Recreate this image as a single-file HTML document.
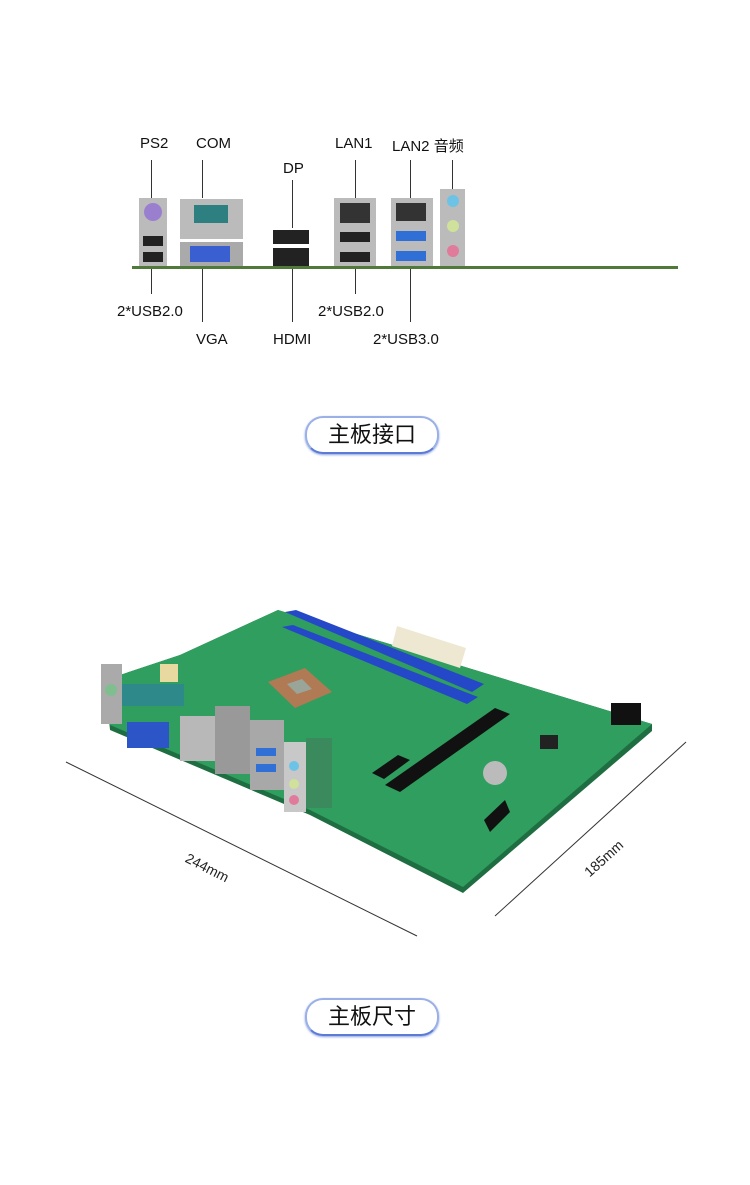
<!DOCTYPE html>
<html><head><meta charset="utf-8"><style>
body{margin:0;width:750px;height:1185px;background:#fff;position:relative;overflow:hidden;font-family:"Liberation Sans","Noto Sans CJK SC",sans-serif}
.t{position:absolute;font-size:15px;color:#111;white-space:nowrap}
.v{position:absolute;width:1px;background:#333}
.btn{position:absolute;width:130px;height:34px;border-radius:18px;border:2px solid #9bb0e6;border-bottom-color:#5b7bd6;box-shadow:0 1px 2px #8aa2e0;font-size:22px;text-align:center;line-height:34px;color:#111;background:#fff}
</style></head><body>
<div class="t" style="left:140px;top:135px">PS2</div>
<div class="t" style="left:196px;top:135px">COM</div>
<div class="t" style="left:283px;top:160px">DP</div>
<div class="t" style="left:335px;top:135px">LAN1</div>
<div class="t" style="left:392px;top:135px">LAN2 音频</div>
<div class="t" style="left:117px;top:303px">2*USB2.0</div>
<div class="t" style="left:318px;top:303px">2*USB2.0</div>
<div class="t" style="left:196px;top:331px">VGA</div>
<div class="t" style="left:273px;top:331px">HDMI</div>
<div class="t" style="left:373px;top:331px">2*USB3.0</div>
<div class="v" style="left:151px;top:160px;height:38px"></div>
<div class="v" style="left:202px;top:160px;height:38px"></div>
<div class="v" style="left:292px;top:180px;height:48px"></div>
<div class="v" style="left:355px;top:160px;height:38px"></div>
<div class="v" style="left:410px;top:160px;height:38px"></div>
<div class="v" style="left:452px;top:160px;height:30px"></div>
<div class="v" style="left:151px;top:268px;height:26px"></div>
<div class="v" style="left:202px;top:268px;height:54px"></div>
<div class="v" style="left:292px;top:268px;height:54px"></div>
<div class="v" style="left:355px;top:268px;height:26px"></div>
<div class="v" style="left:410px;top:268px;height:54px"></div>
<svg style="position:absolute;left:0;top:0" width="750" height="600">
<rect x="132" y="266" width="546" height="3" fill="#4f7a3a"/>
<rect x="139" y="198" width="28" height="68" fill="#bbb"/>
<circle cx="153" cy="212" r="9" fill="#9a7fcf"/>
<rect x="143" y="236" width="20" height="10" fill="#222"/><rect x="143" y="252" width="20" height="10" fill="#222"/>
<rect x="180" y="199" width="63" height="40" fill="#bbb"/><rect x="194" y="205" width="34" height="18" fill="#2e7f80"/>
<rect x="180" y="242" width="63" height="24" fill="#aaa"/><rect x="190" y="246" width="40" height="16" fill="#3a5fd0"/>
<rect x="273" y="230" width="36" height="14" fill="#222"/><rect x="273" y="248" width="36" height="18" fill="#222"/>
<rect x="334" y="198" width="42" height="68" fill="#bbb"/><rect x="340" y="203" width="30" height="20" fill="#333"/>
<rect x="340" y="232" width="30" height="10" fill="#222"/><rect x="340" y="252" width="30" height="10" fill="#222"/>
<rect x="391" y="198" width="42" height="68" fill="#bbb"/><rect x="396" y="203" width="30" height="18" fill="#333"/>
<rect x="396" y="231" width="30" height="10" fill="#2f6fd6"/><rect x="396" y="251" width="30" height="10" fill="#2f6fd6"/>
<rect x="440" y="189" width="25" height="77" fill="#bbb"/>
<circle cx="453" cy="201" r="6" fill="#6cc3e6"/><circle cx="453" cy="226" r="6" fill="#cfe19a"/><circle cx="453" cy="251" r="6" fill="#e07b9b"/>
</svg>
<div class="btn" style="left:305px;top:416px">主板接口</div>
<svg style="position:absolute;left:0;top:580px" width="750" height="380">
<g transform="translate(0,-580)">
<polygon points="278,610 652,724 652,731 463,893 310,815 110,730 105,680 180,655" fill="#1f6e42"/>
<polygon points="278,610 652,724 463,887 310,810 110,725 105,680 180,655" fill="#2f9e5e"/>
<polygon points="285,612 296,610 484,684 472,692" fill="#2448c8"/>
<polygon points="282,627 293,625 478,697 467,704" fill="#2448c8"/>
<polygon points="397,626 466,648 460,668 392,646" fill="#eee8d2"/>
<polygon points="268,682 305,668 332,692 295,708" fill="#b07a55"/>
<polygon points="287,684 302,679 312,689 297,694" fill="#9aa59a"/>
<polygon points="385,785 495,708 510,714 400,792" fill="#111"/>
<polygon points="372,773 398,755 410,760 384,779" fill="#111"/>
<polygon points="484,820 505,800 510,812 490,832" fill="#111"/>
<rect x="611" y="703" width="30" height="22" fill="#111"/>
<circle cx="495" cy="773" r="12" fill="#bbb"/>
<rect x="540" y="735" width="18" height="14" fill="#222"/>
<rect x="101" y="664" width="21" height="60" fill="#aaa"/>
<circle cx="111" cy="690" r="6" fill="#7fbf8f"/>
<rect x="122" y="684" width="62" height="22" fill="#2e8a8a"/>
<rect x="160" y="664" width="18" height="18" fill="#e8d9a0"/>
<rect x="127" y="722" width="42" height="26" fill="#2c55c8"/>
<rect x="180" y="716" width="35" height="45" fill="#b8b8b8"/>
<rect x="215" y="706" width="35" height="68" fill="#999"/>
<rect x="250" y="720" width="34" height="70" fill="#a8a8a8"/>
<rect x="256" y="748" width="20" height="8" fill="#2f6fd6"/><rect x="256" y="764" width="20" height="8" fill="#2f6fd6"/>
<rect x="284" y="742" width="22" height="70" fill="#c8c8c8"/>
<circle cx="294" cy="766" r="5" fill="#6cc3e6"/><circle cx="294" cy="784" r="5" fill="#cfe19a"/><circle cx="294" cy="800" r="5" fill="#e07b9b"/>
<rect x="306" y="738" width="26" height="70" fill="#3a8a5e"/>
<line x1="66" y1="762" x2="417" y2="936" stroke="#333" stroke-width="1"/>
<line x1="495" y1="916" x2="686" y2="742" stroke="#333" stroke-width="1"/>
<text x="205" y="872" font-size="14" fill="#222" transform="rotate(27 205 872)" font-family="Liberation Sans" text-anchor="middle">244mm</text>
<text x="607" y="862" font-size="14" fill="#222" transform="rotate(-42 607 862)" font-family="Liberation Sans" text-anchor="middle">185mm</text>
</g>
</svg>
<div class="btn" style="left:305px;top:998px">主板尺寸</div>
</body></html>
